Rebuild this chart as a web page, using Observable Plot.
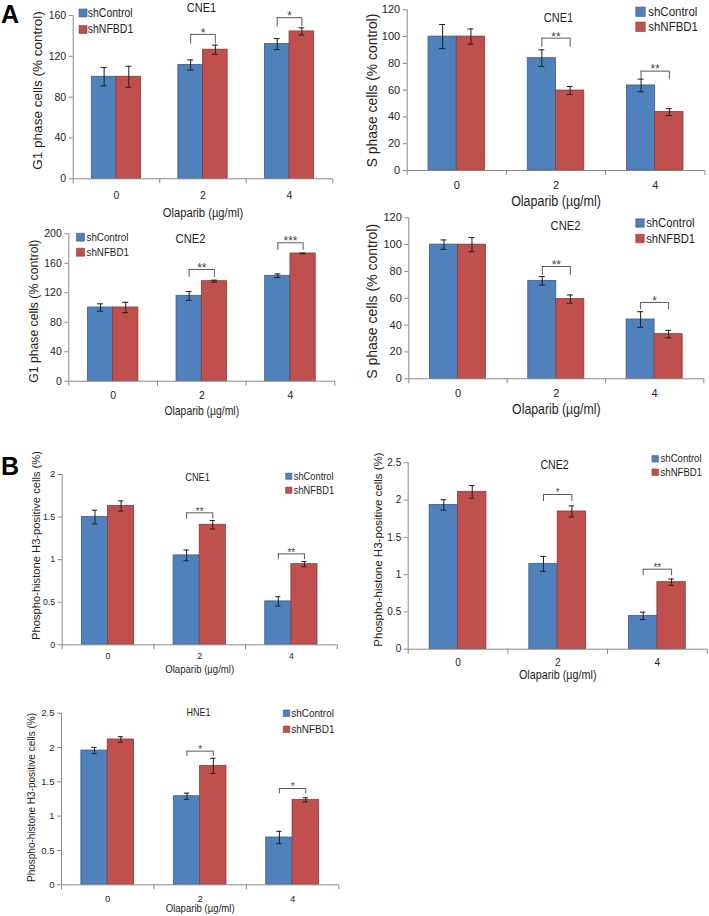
<!DOCTYPE html>
<html><head><meta charset="utf-8">
<script src="https://cdn.jsdelivr.net/npm/d3@7"></script>
<script src="https://cdn.jsdelivr.net/npm/@observablehq/plot@0.6"></script>
<style>
html,body{margin:0;padding:0;background:#fff;}
#fig{position:relative;width:709px;height:916px;overflow:hidden;font-family:"Liberation Sans",Arial,sans-serif;}
#fig svg{position:absolute;overflow:visible;background:transparent;}
.letter{position:absolute;font-weight:bold;font-size:25px;line-height:1;color:#000;}
</style></head><body><div id="fig"></div>
<script>
// ---------- data ----------
const doses = ["0", "2", "4"];
const seriesNames = ["shControl", "shNFBD1"];

// A: G1 phase, CNE1
const g1Cne1Control = [100, 111.5, 132];
const g1Cne1ControlSd = [9, 5, 5.4];
const g1Cne1Nfbd1 = [100, 126.5, 144.4];
const g1Cne1Nfbd1Sd = [10.3, 4.5, 3.5];
const g1Cne1Stars = ["", "*", "*"];
const g1Cne1BracketTop = [null, 141.5, 157.8];
const g1Cne1BracketEnd = [null, 132, 149];

// A: S phase, CNE1
const sCne1Control = [100, 83.9, 63.5];
const sCne1ControlSd = [9, 6.2, 4.7];
const sCne1Nfbd1 = [100, 59.7, 43.6];
const sCne1Nfbd1Sd = [5.7, 3, 2.6];
const sCne1Stars = ["", "**", "**"];
const sCne1BracketTop = [null, 98.8, 74.2];
const sCne1BracketEnd = [null, 92.1, 68];

// A: G1 phase, CNE2
const g1Cne2Control = [100, 115.8, 143];
const g1Cne2ControlSd = [5, 6, 2.5];
const g1Cne2Nfbd1 = [100, 135.7, 173.3];
const g1Cne2Nfbd1Sd = [7, 1.4, 0.6];
const g1Cne2Stars = ["", "**", "***"];
const g1Cne2BracketTop = [null, 151.6, 187.8];
const g1Cne2BracketEnd = [null, 141, 177.4];

// A: S phase, CNE2
const sCne2Control = [100, 73, 44.2];
const sCne2ControlSd = [3.5, 3.2, 5.8];
const sCne2Nfbd1 = [100, 59.4, 33.3];
const sCne2Nfbd1Sd = [5.3, 3.1, 2.8];
const sCne2Stars = ["", "**", "*"];
const sCne2BracketTop = [null, 83.7, 56.9];
const sCne2BracketEnd = [null, 77, 51.5];

// B: phospho-histone H3, CNE1
const ph3Cne1Control = [1.5, 1.05, 0.51];
const ph3Cne1ControlSd = [0.08, 0.063, 0.055];
const ph3Cne1Nfbd1 = [1.63, 1.41, 0.947];
const ph3Cne1Nfbd1Sd = [0.06, 0.05, 0.03];
const ph3Cne1Stars = ["", "**", "**"];
const ph3Cne1BracketTop = [null, 1.55, 1.068];
const ph3Cne1BracketEnd = [null, 1.475, 0.998];

// B: phospho-histone H3, CNE2
const ph3Cne2Control = [1.935, 1.145, 0.447];
const ph3Cne2ControlSd = [0.07, 0.1, 0.05];
const ph3Cne2Nfbd1 = [2.11, 1.847, 0.899];
const ph3Cne2Nfbd1Sd = [0.085, 0.074, 0.042];
const ph3Cne2Stars = ["", "*", "**"];
const ph3Cne2BracketTop = [null, 2.075, 1.073];
const ph3Cne2BracketEnd = [null, 1.98, 0.984];

// B: phospho-histone H3, HNE1
const ph3Hne1Control = [1.956, 1.291, 0.689];
const ph3Hne1ControlSd = [0.045, 0.045, 0.09];
const ph3Hne1Nfbd1 = [2.117, 1.733, 1.238];
const ph3Hne1Nfbd1Sd = [0.04, 0.11, 0.03];
const ph3Hne1Stars = ["", "*", "*"];
const ph3Hne1BracketTop = [null, 1.947, 1.403];
const ph3Hne1BracketEnd = [null, 1.869, 1.325];

// tick labels
const g1TicksCne1 = [0, 40, 80, 120, 160];
const g1TicksCne2 = [0, 40, 80, 120, 160, 200];
const sTicks = [0, 20, 40, 60, 80, 100, 120];
const ph3TicksCne1 = [0, 0.5, 1, 1.5, 2];
const ph3Ticks = [0, 0.5, 1, 1.5, 2, 2.5];

const xLabel = "Olaparib (\u00b5g/ml)";
const g1Label = "G1 phase cells (% control)";
const sLabel = "S phase cells (% control)";
const ph3Label = "Phospho-histone H3-positive cells (%)";

// ---------- style ----------
const BLUE = "#4F81BD", RED = "#C0504D", BLUE_EDGE = "#3A5F8C", RED_EDGE = "#8C3A37";
const GRAY = "#8a8a8a", INK = "#1e1e1e";
const BW = 0.285; // bar width as a fraction of a dose band
const FONT = '"Liberation Sans", Arial, sans-serif';
const HFONT = 'Arial, "Liberation Sans", sans-serif'; // horizontally condensed texts
const C = 0.86; // horizontal condensing of titles, legends, x titles
const K = 1 / C;

const panels = [
  {box: {left: 0, top: 0, w: 355, h: 220}, frame: {x0: 72.7, x1: 332.3, y0: 15, y1: 178.3},
   values: [g1Cne1Control, g1Cne1Nfbd1], errs: [g1Cne1ControlSd, g1Cne1Nfbd1Sd],
   stars: g1Cne1Stars, bTop: g1Cne1BracketTop, bEnd: g1Cne1BracketEnd, ticks: g1TicksCne1,
   title: "CNE1", titleAt: [201, 7.5], titleSize: 11,
   legX: 82.5, legY: [12.5, 29], legSide: 8, legTextX: 87.3, legSize: 10.5,
   tickY: 195, tickSize: 10.5, xLabY: 212, xLabSize: 11.2,
   yLabel: g1Label, yLabAt: [37.5, 90], yLabSize: 13.5, starSize: 12, capPx: 3},
  {box: {left: 355, top: 0, w: 354, h: 210}, frame: {x0: 406.7, x1: 704.3, y0: 9.3, y1: 170},
   values: [sCne1Control, sCne1Nfbd1], errs: [sCne1ControlSd, sCne1Nfbd1Sd],
   stars: sCne1Stars, bTop: sCne1BracketTop, bEnd: sCne1BracketEnd, ticks: sTicks,
   title: "CNE1", titleAt: [558, 17], titleSize: 11,
   legX: 640, legY: [11.3, 26.3], legSide: 9.5, legTextX: 647.7, legSize: 11.5,
   tickY: 185, tickSize: 11, xLabY: 201, xLabSize: 12.5,
   yLabel: sLabel, yLabAt: [371.7, 90], yLabSize: 13.9, starSize: 12, capPx: 3},
  {box: {left: 0, top: 220, w: 355, h: 200}, frame: {x0: 68.3, x1: 334.3, y0: 233.3, y1: 380.7},
   values: [g1Cne2Control, g1Cne2Nfbd1], errs: [g1Cne2ControlSd, g1Cne2Nfbd1Sd],
   stars: g1Cne2Stars, bTop: g1Cne2BracketTop, bEnd: g1Cne2BracketEnd, ticks: g1TicksCne2,
   title: "CNE2", titleAt: [190, 238], titleSize: 11.2,
   legX: 80, legY: [236.7, 251.7], legSide: 8, legTextX: 86, legSize: 9.8,
   tickY: 395, tickSize: 10.5, xLabY: 411, xLabSize: 10.4,
   yLabel: g1Label, yLabAt: [33.3, 310.7], yLabSize: 12.2, starSize: 12, capPx: 3},
  {box: {left: 355, top: 210, w: 354, h: 210}, frame: {x0: 408.3, x1: 703.3, y0: 217.3, y1: 378.3},
   values: [sCne2Control, sCne2Nfbd1], errs: [sCne2ControlSd, sCne2Nfbd1Sd],
   stars: sCne2Stars, bTop: sCne2BracketTop, bEnd: sCne2BracketEnd, ticks: sTicks,
   title: "CNE2", titleAt: [565, 225], titleSize: 11.2,
   legX: 639.5, legY: [222.5, 238], legSide: 8.5, legTextX: 645.7, legSize: 11.3,
   tickY: 393.3, tickSize: 11, xLabY: 409, xLabSize: 12.3,
   yLabel: sLabel, yLabAt: [371.7, 300.8], yLabSize: 14, starSize: 12, capPx: 3},
  {box: {left: 0, top: 440, w: 355, h: 240}, frame: {x0: 61.7, x1: 336.7, y0: 474, y1: 644.3},
   values: [ph3Cne1Control, ph3Cne1Nfbd1], errs: [ph3Cne1ControlSd, ph3Cne1Nfbd1Sd],
   stars: ph3Cne1Stars, bTop: ph3Cne1BracketTop, bEnd: ph3Cne1BracketEnd, ticks: ph3TicksCne1,
   title: "CNE1", titleAt: [197, 477], titleSize: 9.2,
   legX: 288.3, legY: [475.7, 489.7], legSide: 6.2, legTextX: 293.3, legSize: 9.3,
   tickY: 656, tickSize: 8.8, xLabY: 669.3, xLabSize: 9.6,
   yLabel: ph3Label, yLabAt: [36, 545], yLabSize: 11.2, starSize: 10, capPx: 2.6},
  {box: {left: 355, top: 440, w: 354, h: 245}, frame: {x0: 407.7, x1: 706.7, y0: 462.3, y1: 648.7},
   values: [ph3Cne2Control, ph3Cne2Nfbd1], errs: [ph3Cne2ControlSd, ph3Cne2Nfbd1Sd],
   stars: ph3Cne2Stars, bTop: ph3Cne2BracketTop, bEnd: ph3Cne2BracketEnd, ticks: ph3Ticks,
   title: "CNE2", titleAt: [554, 465], titleSize: 10.6,
   legX: 654.7, legY: [458.3, 471.7], legSide: 6.5, legTextX: 660, legSize: 9.6,
   tickY: 662.7, tickSize: 10, xLabY: 674.3, xLabSize: 10.8,
   yLabel: ph3Label, yLabAt: [378, 549], yLabSize: 11.5, starSize: 10, capPx: 2.8},
  {box: {left: 0, top: 690, w: 355, h: 226}, frame: {x0: 61, x1: 338.3, y0: 712.7, y1: 884.3},
   values: [ph3Hne1Control, ph3Hne1Nfbd1], errs: [ph3Hne1ControlSd, ph3Hne1Nfbd1Sd],
   stars: ph3Hne1Stars, bTop: ph3Hne1BracketTop, bEnd: ph3Hne1BracketEnd, ticks: ph3Ticks,
   title: "HNE1", titleAt: [198, 712.5], titleSize: 9,
   legX: 286, legY: [712.7, 728.8], legSide: 6.5, legTextX: 290.7, legSize: 10,
   tickY: 898.3, tickSize: 9.5, xLabY: 908.3, xLabSize: 9.6,
   yLabel: ph3Label, yLabAt: [31, 797], yLabSize: 10, starSize: 10, capPx: 2.6}
];

function build(cfg) {
  const {box, frame} = cfg;
  const band = (frame.x1 - frame.x0) / 3;
  const cap = cfg.capPx / band;
  const rows = [];
  cfg.values.forEach((vals, s) => vals.forEach((v, i) =>
    rows.push({i, s, dose: doses[i], series: seriesNames[s], v, e: cfg.errs[s][i]})));
  const cx = d => d.i + 0.5 + (d.s === 0 ? -BW / 2 : BW / 2);
  const br = doses.map((d, i) => ({i, top: cfg.bTop[i], end: cfg.bEnd[i], stars: cfg.stars[i]})).filter(d => d.stars);
  const at = (x, y) => ({frameAnchor: "top-left", dx: x - frame.x0, dy: y - frame.y0});
  const fills = [BLUE, RED], edges = [BLUE_EDGE, RED_EDGE];
  const yMax = cfg.ticks[cfg.ticks.length - 1];
  const marks = [];
  for (let s = 0; s < 2; s++) {
    marks.push(Plot.rect(rows.filter(d => d.s === s), {
      x1: d => d.i + 0.5 + (s === 0 ? -BW : 0), x2: d => d.i + 0.5 + (s === 0 ? 0 : BW),
      y1: 0, y2: "v", fill: fills[s], stroke: edges[s], strokeWidth: 0.8
    }));
  }
  // error bars
  marks.push(Plot.ruleX(rows, {x: cx, y1: d => d.v - d.e, y2: d => d.v + d.e, stroke: INK, strokeWidth: 1}));
  marks.push(Plot.ruleY(rows, {y: d => d.v + d.e, x1: d => cx(d) - cap, x2: d => cx(d) + cap, stroke: INK, strokeWidth: 1}));
  marks.push(Plot.ruleY(rows, {y: d => d.v - d.e, x1: d => cx(d) - cap, x2: d => cx(d) + cap, stroke: INK, strokeWidth: 1}));
  // significance brackets
  const bl = d => d.i + 0.5 - BW / 2, brr = d => d.i + 0.5 + BW / 2;
  marks.push(Plot.ruleY(br, {y: "top", x1: bl, x2: brr, stroke: "#5a5a5a", strokeWidth: 1}));
  marks.push(Plot.ruleX(br, {x: bl, y1: "end", y2: "top", stroke: "#5a5a5a", strokeWidth: 1}));
  marks.push(Plot.ruleX(br, {x: brr, y1: "end", y2: "top", stroke: "#5a5a5a", strokeWidth: 1}));
  marks.push(Plot.text(br, {x: d => d.i + 0.5, y: "top", text: "stars", dy: -1.5, lineAnchor: "middle",
    fontSize: cfg.starSize, fill: "#444", fontFamily: FONT}));
  // axes
  marks.push(Plot.ruleY([0], {stroke: GRAY, strokeWidth: 1}));
  marks.push(Plot.ruleX([0], {stroke: GRAY, strokeWidth: 1}));
  marks.push(Plot.axisY(cfg.ticks, {tickSize: 4, tickPadding: 3, tickFormat: d => String(d), fontSize: cfg.tickSize,
    stroke: GRAY, fill: INK, label: null, fontFamily: FONT}));
  marks.push(Plot.axisX([0, 1, 2, 3], {tickSize: 5, tickFormat: () => "", stroke: GRAY, label: null}));
  marks.push(Plot.text(doses, {x: (d, i) => i + 0.5, frameAnchor: "bottom", dy: cfg.tickY - frame.y1, text: d => d,
    lineAnchor: "middle", fontSize: cfg.tickSize, fill: INK, fontFamily: FONT}));
  // axis titles
  marks.push(Plot.text([xLabel], {frameAnchor: "bottom", dx: 0, dy: cfg.xLabY - frame.y1, text: d => d,
    lineAnchor: "middle", fontSize: cfg.xLabSize * K, fill: INK, fontFamily: HFONT}));
  marks.push(Plot.text([cfg.yLabel], {...at(cfg.yLabAt[0], cfg.yLabAt[1]), text: d => d, rotate: -90,
    textAnchor: "middle", lineAnchor: "middle", fontSize: cfg.yLabSize, fill: INK, fontFamily: FONT}));
  // title
  marks.push(Plot.text([cfg.title], {...at(cfg.titleAt[0], cfg.titleAt[1]), text: d => d,
    textAnchor: "middle", lineAnchor: "middle", fontSize: cfg.titleSize * K, fill: INK, fontFamily: HFONT}));
  // legend
  for (let s = 0; s < 2; s++) {
    marks.push(Plot.dot([seriesNames[s]], {...at(cfg.legX, cfg.legY[s]), symbol: "square",
      r: cfg.legSide / Math.sqrt(Math.PI), fill: fills[s], stroke: edges[s], strokeWidth: 0.6}));
    marks.push(Plot.text([seriesNames[s]], {...at(cfg.legTextX, cfg.legY[s]), text: d => d,
      textAnchor: "start", lineAnchor: "middle", fontSize: cfg.legSize * K, fill: INK, fontFamily: HFONT}));
  }
  const svg = Plot.plot({
    width: box.w, height: box.h,
    marginLeft: frame.x0 - box.left, marginRight: box.left + box.w - frame.x1,
    marginTop: frame.y0 - box.top, marginBottom: box.top + box.h - frame.y1,
    x: {type: "linear", domain: [0, 3]},
    y: {type: "linear", domain: [0, yMax]},
    style: {fontFamily: FONT, background: "transparent", overflow: "visible"},
    marks
  });
  svg.style.left = box.left + "px";
  svg.style.top = box.top + "px";
  svg.style.position = "absolute";
  svg.style.maxWidth = "none";
  return svg;
}

// condense horizontal titles/legends (the source figure is squeezed horizontally)
function condense(svg) {
  svg.querySelectorAll("g[font-family]").forEach(g => {
    if (g.getAttribute("font-family") !== HFONT) return;
    g.querySelectorAll("text").forEach(t => {
      const L = t.getComputedTextLength();
      if (L > 0) {
        t.setAttribute("textLength", (L * C).toFixed(2));
        t.setAttribute("lengthAdjust", "spacingAndGlyphs");
      }
    });
  });
}

const fig = document.getElementById("fig");
panels.forEach(p => {
  const svg = build(p);
  fig.appendChild(svg);
  condense(svg);
});
const letters = [["A", 1, 2], ["B", 1, 453.5]];
letters.forEach(([t, x, y]) => {
  const el = document.createElement("div");
  el.className = "letter";
  el.textContent = t;
  el.style.left = x + "px";
  el.style.top = y + "px";
  fig.appendChild(el);
});
</script></body></html>
